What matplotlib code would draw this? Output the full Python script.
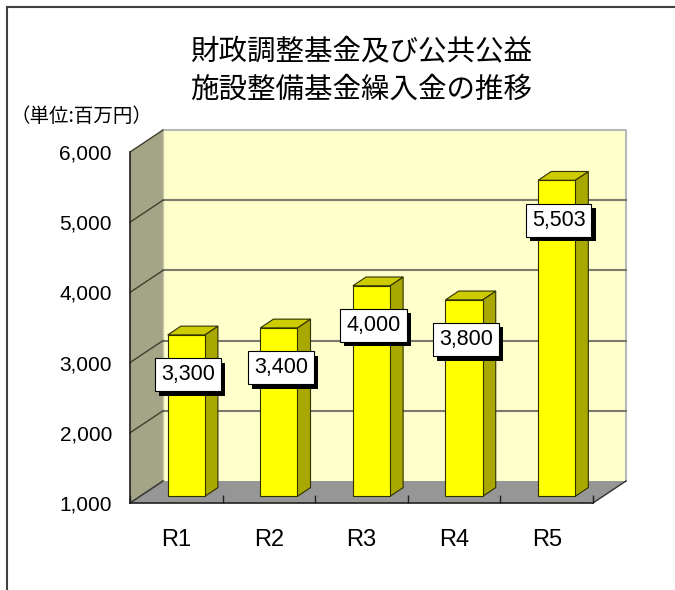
import numpy as np
import matplotlib.pyplot as plt
from matplotlib.patches import Polygon
from matplotlib.lines import Line2D
import matplotlib.patheffects as pe

# ---- data ----
categories = ["R1", "R2", "R3", "R4", "R5"]
values = [3300, 3400, 4000, 3800, 5503]
y_ticks = [1000, 2000, 3000, 4000, 5000, 6000]
title = "財政調整基金及び公共公益\n施設整備基金繰入金の推移"
unit_label = "（単位:百万円）"

plt.rcParams["font.family"] = ["Liberation Sans", "Noto Sans CJK JP"]

# ---- colours ----
WALL = "#FFFFCC"
SIDE_WALL = "#A4A486"
FLOOR = "#969696"
GRID = "#7A7A6A"
BAR_FRONT = "#FFFF00"
BAR_SIDE = "#A8A800"
BAR_TOP = "#CCCC00"

W, H = 675, 590
fig = plt.figure(figsize=(W / 100, H / 100), dpi=100)
fig.patch.set_facecolor("white")

# front plane of the 3D box, in pixels
left, right, y_base, y_top = 130, 593, 503, 152
ax = fig.add_axes([left / W, 1 - y_base / H, (right - left) / W, (y_base - y_top) / H])
ax.set_xlim(-0.5, len(categories) - 0.5)
ax.set_ylim(1000, 6000)
ax.patch.set_visible(False)
for s in ax.spines.values():
    s.set_visible(False)

# depth of the box in data units (33 px right, 22 px up)
px_x = len(categories) / (right - left)
px_y = 5000 / (y_base - y_top)
DX, DY = 33 * px_x, 22 * px_y
x0, x1, y0, y1 = -0.5, len(categories) - 0.5, 1000, 6000

# walls and floor
ax.add_patch(Polygon([(x0 + DX, y0 + DY), (x1 + DX, y0 + DY), (x1 + DX, y1 + DY), (x0 + DX, y1 + DY)],
                     closed=True, facecolor=WALL, edgecolor="none", clip_on=False, zorder=0))
ax.add_patch(Polygon([(x0, y0), (x0 + DX, y0 + DY), (x0 + DX, y1 + DY), (x0, y1)],
                     closed=True, facecolor=SIDE_WALL, edgecolor="none", clip_on=False, zorder=0))
ax.add_patch(Polygon([(x0, y0), (x1, y0), (x1 + DX, y0 + DY), (x0 + DX, y0 + DY)],
                     closed=True, facecolor=FLOOR, edgecolor="none", clip_on=False, zorder=0))
# wall borders
ax.plot([x0 + DX, x1 + DX, x1 + DX], [y1 + DY, y1 + DY, y0 + DY], color="#B8B8B8", lw=1.5,
        clip_on=False, zorder=0.5)
ax.plot([x0 + DX, x0 + DX], [y0 + DY, y1 + DY], color="#C8C8B0", lw=1.0, clip_on=False, zorder=0.5)

# gridlines on back wall and side wall
for v in y_ticks[1:-1]:
    ax.plot([x0 + DX, x1 + DX], [v + DY, v + DY], color=GRID, lw=1.5, clip_on=False, zorder=1)
for v in y_ticks:
    ax.plot([x0, x0 + DX], [v, v + DY], color="#404030", lw=1.0, clip_on=False, zorder=1)
ax.plot([x0, x0 + DX], [y0, y0 + DY], color="#404040", lw=1.0, clip_on=False, zorder=1)
ax.plot([x1, x1 + DX], [y0, y0 + DY], color="#303030", lw=1.0, clip_on=False, zorder=1)

# bars, set in the middle of the depth
x = np.arange(len(categories))
vals = np.array(values, dtype=float)
f1, f2 = 0.3, 0.7
bw = 0.4
bx = x + f1 * DX
ax.bar(bx, vals - y0, bottom=y0 + f1 * DY, width=bw, color=BAR_FRONT,
       edgecolor="#303000", linewidth=0.8, zorder=3)
bdx, bdy = (f2 - f1) * DX, (f2 - f1) * DY
for xi, v in zip(bx, vals):
    l, r = xi - bw / 2, xi + bw / 2
    top = v + f1 * DY
    bot = y0 + f1 * DY
    ax.add_patch(Polygon([(r, bot), (r + bdx, bot + bdy), (r + bdx, top + bdy), (r, top)],
                         closed=True, facecolor=BAR_SIDE, edgecolor="#303000", lw=0.8, zorder=2.9))
    ax.add_patch(Polygon([(l, top), (r, top), (r + bdx, top + bdy), (l + bdx, top + bdy)],
                         closed=True, facecolor=BAR_TOP, edgecolor="#303000", lw=0.8, zorder=2.9))

# data labels with drop shadow
for xi, v in zip(bx, vals):
    ly = v + f1 * DY - 40 * px_y
    t = ax.text(xi + 2 * px_x, ly, f"{int(v):,}", ha="center", va="center", fontsize=15.5,
                color="black",
                bbox=dict(boxstyle="square,pad=0.28", facecolor="white", edgecolor="black", lw=0.8),
                zorder=5)
    t.get_bbox_patch().set_path_effects(
        [pe.SimplePatchShadow(offset=(3, -3), shadow_rgbFace="black", alpha=1.0), pe.Normal()])

# front axes lines
ax.plot([x0, x0], [y0, y1], color="#202020", lw=1.2, clip_on=False, zorder=1.5)
ax.plot([x0, x1], [y0, y0], color="#202020", lw=1.2, clip_on=False, zorder=1.5)

# ticks
ax.set_yticks(y_ticks)
ax.set_yticklabels([f"{v:,}" for v in y_ticks], fontsize=15)
ax.tick_params(axis="y", length=0, pad=13)
ax.set_xticks(x)
ax.set_xticklabels(categories, fontsize=17)
ax.tick_params(axis="x", which="major", length=0, pad=19)
ax.set_xticks(np.arange(len(categories) + 1) - 0.5, minor=True)
ax.tick_params(axis="x", which="minor", direction="in", length=6, width=1.0, color="#202020")

# titles
fig.text(361 / W, 1 - 71 / H, title, ha="center", va="center", fontsize=20.5,
         linespacing=1.3, family=["Noto Sans CJK JP"])
fig.text(10 / W, 1 - 116 / H, unit_label, ha="left", va="center", fontsize=14,
         family=["Noto Sans CJK JP"])

# outer frame (top and left)
fig.add_artist(Line2D([7 / W, 1], [1 - 7 / H, 1 - 7 / H], color="#404040", lw=1.5))
fig.add_artist(Line2D([7 / W, 7 / W], [1 - 7 / H, 0], color="#404040", lw=1.5))

fig.savefig("out.png", dpi=100)
